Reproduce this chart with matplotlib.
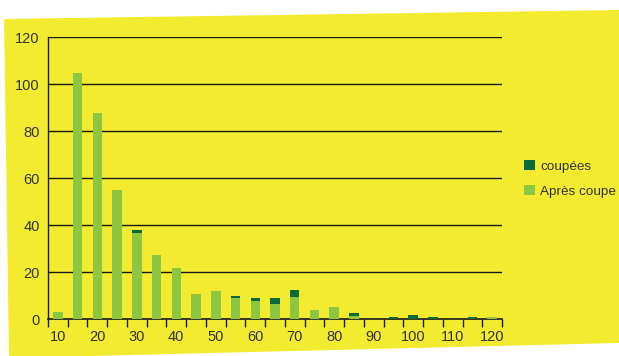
import matplotlib
matplotlib.use("Agg")
import matplotlib.pyplot as plt
from matplotlib.patches import Polygon, Patch
import numpy as np

plt.rcParams['font.family'] = ['Liberation Sans', 'DejaVu Sans']

categories = [10, 15, 20, 25, 30, 35, 40, 45, 50, 55, 60, 65, 70, 75, 80, 85, 90, 95, 100, 105, 110, 115, 120]
apres_coupe = [3, 105, 88, 55, 36.7, 27.2, 22, 10.7, 12, 9.1, 7.8, 6.5, 9.5, 4, 5.2, 1.4, 0, 0, 0, 0, 0, 0, 1]
coupees = [0, 0, 0, 0, 1.3, 0, 0, 0, 0, 0.8, 1.3, 2.6, 3.0, 0, 0, 1.3, 0, 1, 1.7, 1, 0, 1, 0]
tick_labels = [str(c) if i % 2 == 0 else '' for i, c in enumerate(categories)]

YELLOW = '#F3EB2F'
LIGHT = '#8DC641'
DARK = '#0B6A38'
TXT = '#333333'

W, H = 619, 356
fig = plt.figure(figsize=(W / 100, H / 100), dpi=100, facecolor='white')

# tilted yellow card background
pts = [(4, 19), (619, 10), (619, 343), (9, 358)]
poly = Polygon([(x / W, 1 - y / H) for x, y in pts], closed=True,
               transform=fig.transFigure, facecolor=YELLOW, edgecolor='none', zorder=-10)
fig.patches.append(poly)

ax = fig.add_axes([48 / W, 1 - 319.3 / H, (502 - 48) / W, (319.3 - 37.3) / H])
ax.set_facecolor('none')
ax.set_zorder(1)

x = np.arange(len(categories))
ax.bar(x, apres_coupe, width=0.48, color=LIGHT, zorder=3, label='Après coupe')
ax.bar(x, coupees, width=0.48, bottom=apres_coupe, color=DARK, zorder=3, label='coupées')

ax.set_xlim(-0.5, len(categories) - 0.5)
ax.set_ylim(0, 120)
ax.set_yticks(range(0, 121, 20))
for yv in range(20, 121, 20):
    ax.axhline(yv, color='#1a1a1a', lw=1.0, zorder=1)

ax.set_xticks(x)
ax.set_xticklabels(tick_labels)
ax.set_xticks(np.arange(-0.5, len(categories), 1.0), minor=True)
ax.tick_params(axis='x', which='major', length=0, pad=8, labelsize=10.5, colors=TXT)
ax.tick_params(axis='x', which='minor', length=6, width=1, color='#1a1a1a', direction='out')
ax.tick_params(axis='y', length=0, pad=6, labelsize=10.5, colors=TXT)

for s in ['top', 'right']:
    ax.spines[s].set_visible(False)
ax.spines['left'].set_color('#1a1a1a')
ax.spines['bottom'].set_color('#1a1a1a')
ax.spines['left'].set_linewidth(1.0)
ax.spines['bottom'].set_linewidth(1.2)

handles = [Patch(facecolor=DARK, label='coupées'), Patch(facecolor=LIGHT, label='Après coupe')]
leg = fig.legend(handles=handles, loc='upper left', bbox_to_anchor=(524 / W, 1 - 160 / H),
                 frameon=False, fontsize=9.7, handlelength=0.8, handleheight=0.8,
                 handletextpad=0.4, labelspacing=0.9, borderaxespad=0, borderpad=0)
for t in leg.get_texts():
    t.set_color(TXT)

fig.savefig('out.png', dpi=100, facecolor='white')
